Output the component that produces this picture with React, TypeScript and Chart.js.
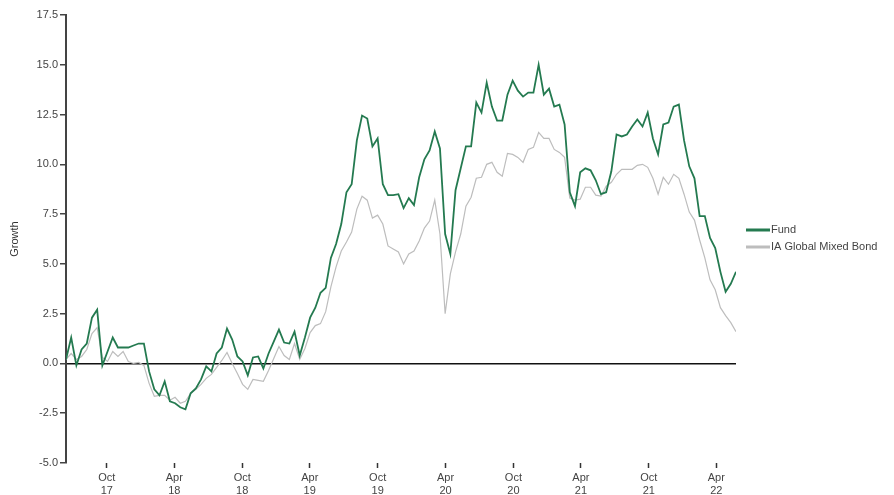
import React, { useEffect, useRef } from "react";
import { Chart, registerables } from "chart.js";

Chart.register(...registerables);

// ---- data ----
const startDate = "2017-06-13";
const stepDays = 14;

const fundLabel = "Fund";
const peerLabel = "IA Global Mixed Bond";

const fundValues = [
  0.2, 1.3, -0.1, 0.7, 1.0, 2.3, 2.7, -0.1, 0.6, 1.3,
  0.8, 0.8, 0.8, 0.9, 1.0, 1.0, -0.4, -1.3, -1.6, -0.9,
  -1.9, -2.0, -2.2, -2.3, -1.5, -1.25, -0.8, -0.15, -0.4, 0.5,
  0.8, 1.75, 1.2, 0.35, 0.1, -0.6, 0.3, 0.35, -0.25, 0.5,
  1.1, 1.7, 1.05, 1.0, 1.6, 0.4, 1.3, 2.3, 2.8, 3.55,
  3.8, 5.3, 6.0, 7.0, 8.6, 9.0, 11.2, 12.45, 12.3, 10.9,
  11.3, 9.0, 8.45, 8.45, 8.5, 7.8, 8.3, 7.95, 9.35, 10.25,
  10.7, 11.65, 10.8, 6.5, 5.5, 8.7, 9.8, 10.9, 10.9, 13.1,
  12.6, 14.1, 12.9, 12.2, 12.2, 13.5, 14.2, 13.7, 13.4, 13.6,
  13.6, 15.0, 13.5, 13.8, 12.9, 13.0, 12.0, 8.6, 7.9, 9.6,
  9.8, 9.7, 9.2, 8.5, 8.6, 9.65, 11.5, 11.4, 11.5, 11.9,
  12.25, 11.9, 12.6, 11.3, 10.5, 12.0, 12.1, 12.9, 13.0, 11.2,
  9.9, 9.3, 7.4, 7.4, 6.3, 5.8, 4.6, 3.6, 4.0, 4.6,
];

const peerValues = [
  0.2, 0.5, 0.2, 0.35, 0.7, 1.5, 1.8, 0.3, 0.1, 0.6,
  0.35, 0.6, 0.1, 0.0, 0.05, -0.1, -1.0, -1.65, -1.6, -1.6,
  -1.85, -1.7, -2.0, -1.9, -1.5, -1.3, -1.05, -0.75, -0.55, -0.2,
  0.15, 0.55, 0.0, -0.5, -1.05, -1.3, -0.8, -0.85, -0.9, -0.35,
  0.25, 0.85, 0.4, 0.2, 1.0, 0.2, 0.75, 1.55, 1.9, 2.0,
  2.6, 3.85, 4.85, 5.65, 6.1, 6.6, 7.75, 8.4, 8.2, 7.3,
  7.45, 7.0, 5.9, 5.75, 5.6, 5.0, 5.5, 5.65, 6.15, 6.8,
  7.15, 8.2, 6.5, 2.5, 4.5, 5.6, 6.5, 7.9, 8.35, 9.3,
  9.35, 10.0, 10.1, 9.6, 9.4, 10.55, 10.5, 10.35, 10.1, 10.75,
  10.85, 11.6, 11.3, 11.3, 10.75, 10.6, 10.35, 8.3, 8.2, 8.25,
  8.85, 8.85, 8.45, 8.4, 8.9, 9.1, 9.5, 9.75, 9.75, 9.75,
  9.95, 10.0, 9.85, 9.3, 8.5, 9.35, 9.0, 9.5, 9.3, 8.5,
  7.6, 7.2, 6.2, 5.3, 4.2, 3.7, 2.8, 2.4, 2.05, 1.6,
];

const tickDates = [
  "2017-10-01", "2018-04-01", "2018-10-01", "2019-04-01", "2019-10-01",
  "2020-04-01", "2020-10-01", "2021-04-01", "2021-10-01", "2022-04-01",
];
const tickMonths = ["Oct", "Apr", "Oct", "Apr", "Oct", "Apr", "Oct", "Apr", "Oct", "Apr"];
const tickYears = ["17", "18", "18", "19", "19", "20", "20", "21", "21", "22"];

const yMin = -5;
const yMax = 17.5;
const yStep = 2.5;

// ---- styles ----
const FONT = '"Liberation Sans", Arial, Helvetica, sans-serif';
const fundColor = "#247a50";
const peerColor = "#bdbdbd";
const textColor = "#444";

const DAY = 86400000;
const startMs = new Date(startDate + "T00:00:00Z").getTime();
const toDay = (d: string) => Math.round((new Date(d + "T00:00:00Z").getTime() - startMs) / DAY);
const tickDays = tickDates.map(toDay);

const legendPlugin = {
  id: "sideLegend",
  afterDraw(chart: any) {
    const { ctx, chartArea } = chart;
    const items = [
      { label: fundLabel, color: fundColor },
      { label: peerLabel, color: peerColor },
    ];
    const mid = (chartArea.top + chartArea.bottom) / 2;
    const x0 = chartArea.right + 10;
    ctx.save();
    ctx.font = `11px ${FONT}`;
    ctx.textBaseline = "middle";
    ctx.textAlign = "left";
    items.forEach((it, i) => {
      const y = mid - 9 + i * 17;
      ctx.fillStyle = it.color;
      ctx.fillRect(x0, y - 1.5, 24, 3);
      ctx.fillStyle = textColor;
      ctx.fillText(it.label, x0 + 25, y);
    });
    ctx.restore();
  },
};

export default function App() {
  const ref = useRef<HTMLCanvasElement | null>(null);

  useEffect(() => {
    document.body.style.margin = "0";
    const canvas = ref.current;
    if (!canvas) return;
    const fundData = fundValues.map((v, i) => ({ x: i * stepDays, y: v }));
    const peerData = peerValues.map((v, i) => ({ x: i * stepDays, y: v }));
    const chart = new Chart(canvas, {
      type: "line",
      data: {
        datasets: [
          {
            label: peerLabel,
            data: peerData,
            borderColor: peerColor,
            backgroundColor: peerColor,
            borderWidth: 1.2,
            pointRadius: 0,
            tension: 0,
            order: 2,
          },
          {
            label: fundLabel,
            data: fundData,
            borderColor: fundColor,
            backgroundColor: fundColor,
            borderWidth: 1.8,
            pointRadius: 0,
            tension: 0,
            order: 1,
          },
        ],
      },
      options: {
        responsive: false,
        animation: false,
        layout: { padding: { top: 15, right: 158, left: 0, bottom: 0 } },
        plugins: {
          legend: { display: false },
          tooltip: { enabled: false },
        },
        scales: {
          x: {
            type: "linear",
            min: 0,
            max: (fundValues.length - 1) * stepDays,
            afterBuildTicks: (axis: any) => {
              axis.ticks = tickDays.map((v) => ({ value: v }));
            },
            afterFit: (s: any) => {
              s.height = 32;
            },
            ticks: {
              autoSkip: false,
              maxRotation: 0,
              minRotation: 0,
              padding: 3,
              color: textColor,
              font: { family: FONT, size: 11 },
              callback: (v: any) => {
                const i = tickDays.indexOf(Number(v));
                return i >= 0 ? [tickMonths[i], tickYears[i]] : "";
              },
            },
            grid: {
              drawOnChartArea: false,
              drawTicks: true,
              tickLength: 5,
              tickColor: "#333",
              tickWidth: 1.5,
            },
            border: { display: false },
          },
          y: {
            min: yMin,
            max: yMax,
            afterFit: (s: any) => {
              s.width = 66;
            },
            ticks: {
              stepSize: yStep,
              padding: 2,
              color: textColor,
              font: { family: FONT, size: 11 },
              callback: (v: any) => Number(v).toFixed(1),
            },
            grid: {
              drawOnChartArea: true,
              color: (c: any) => (c.tick && Math.abs(c.tick.value) < 1e-9 ? "#111" : "rgba(0,0,0,0)"),
              lineWidth: 1.5,
              tickColor: "#444",
              tickLength: 6,
              tickWidth: 1.5,
            },
            border: { display: true, color: "#444", width: 2 },
            title: {
              display: true,
              text: "Growth",
              color: "#333",
              font: { family: FONT, size: 11 },
              padding: { top: 8, bottom: 0 },
            },
          },
        },
      },
      plugins: [legendPlugin],
    } as any);
    return () => chart.destroy();
  }, []);

  return (
    <div style={{ width: 894, height: 495 }}>
      <canvas ref={ref} width={894} height={495} style={{ display: "block", width: 894, height: 495 }} />
    </div>
  );
}
